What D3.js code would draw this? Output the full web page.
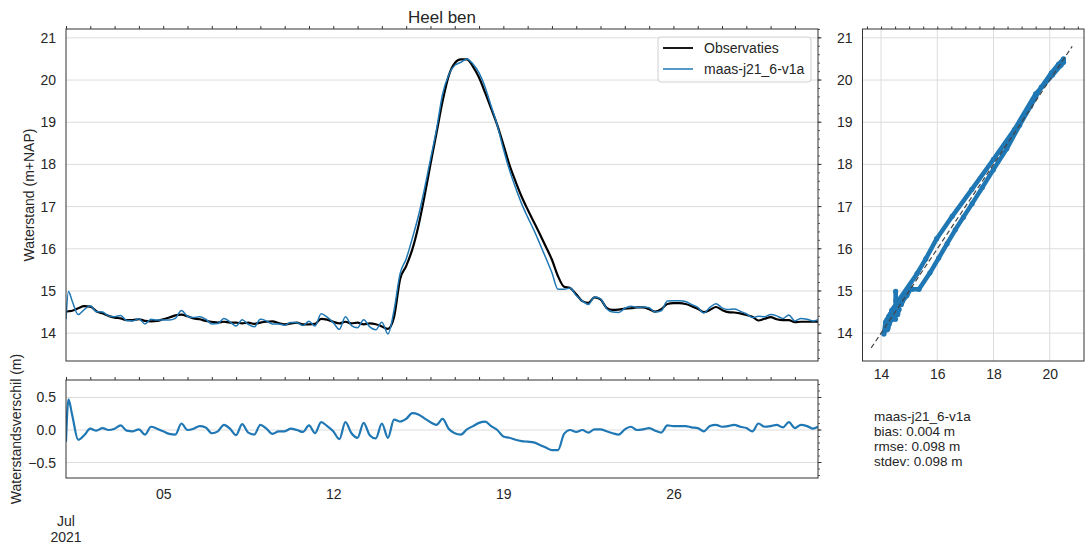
<!DOCTYPE html>
<html>
<head>
<meta charset="utf-8">
<script src="https://cdn.jsdelivr.net/npm/d3@7"></script>
<style>
  body { margin: 0; background: #fff; }
  svg text { font-family: "Liberation Sans", Arial, sans-serif; fill: #262626; }
</style>
</head>
<body>
<div id="chart"></div>
<script>
// days since 2021-07-01 00:00
const days = [0, 0.1, 0.25, 0.5, 0.75, 1, 1.25, 1.5, 1.75, 2, 2.25, 2.5, 2.75, 3, 3.25, 3.5, 3.75,
  4, 4.25, 4.5, 4.75, 5, 5.25, 5.5, 5.75, 6, 6.25, 6.5, 6.75, 7, 7.25, 7.5, 7.75,
  8, 8.25, 8.5, 8.75, 9, 9.25, 9.5, 9.75, 10, 10.25, 10.5, 10.75, 11, 11.25, 11.5, 11.75,
  12, 12.25, 12.5, 12.75, 13, 13.25, 13.5, 13.75, 14, 14.25, 14.5, 14.75, 15, 15.25, 15.5, 15.75,
  16, 16.25, 16.5, 16.75, 17, 17.25, 17.5, 17.75, 18, 18.25, 18.5, 18.75, 19, 19.25, 19.5, 19.75,
  20, 20.25, 20.5, 20.75, 21, 21.25, 21.5, 21.75, 22, 22.25, 22.5, 22.75, 23, 23.25, 23.5, 23.75,
  24, 24.25, 24.5, 24.75, 25, 25.25, 25.5, 25.75, 26, 26.25, 26.5, 26.75, 27, 27.25, 27.5, 27.75,
  28, 28.25, 28.5, 28.75, 29, 29.25, 29.5, 29.75, 30, 30.25, 30.5, 30.75, 30.95];

// Observaties (m+NAP)
const obs = [14.51, 14.52, 14.53, 14.59, 14.64, 14.63, 14.52, 14.47, 14.41, 14.37, 14.35, 14.31, 14.31, 14.33, 14.29, 14.28, 14.29,
  14.33, 14.37, 14.42, 14.44, 14.40, 14.35, 14.33, 14.29, 14.27, 14.25, 14.27, 14.25, 14.25, 14.23, 14.25, 14.22,
  14.25, 14.27, 14.28, 14.24, 14.21, 14.23, 14.25, 14.21, 14.21, 14.22, 14.34, 14.32, 14.27, 14.23, 14.27, 14.23,
  14.25, 14.21, 14.23, 14.21, 14.16, 14.10, 14.38, 15.28, 15.59, 15.98, 16.53, 17.23, 18.00, 18.75, 19.50, 20.10,
  20.40, 20.49, 20.49, 20.32, 20.06, 19.70, 19.32, 18.93, 18.47, 17.99, 17.60, 17.24, 16.93, 16.64, 16.35, 16.05,
  15.74, 15.35, 15.10, 15.07, 14.92, 14.76, 14.72, 14.85, 14.80, 14.60, 14.55, 14.56, 14.58, 14.59, 14.61, 14.61,
  14.57, 14.51, 14.57, 14.69, 14.71, 14.71, 14.69, 14.64, 14.58, 14.50, 14.55, 14.62, 14.55, 14.50, 14.49, 14.47,
  14.43, 14.39, 14.30, 14.34, 14.38, 14.33, 14.31, 14.31, 14.26, 14.27, 14.27, 14.27, 14.27];

// Waterstandsverschil model - observatie (m)
const diff = [-0.18, 0.47, 0.24, -0.15, -0.08, 0.02, -0.01, 0.03, 0.00, 0.02, 0.07, -0.01, -0.02, 0.01, -0.07, 0.05, 0.02,
  -0.02, -0.06, -0.07, 0.10, 0.00, 0.02, 0.06, 0.04, -0.05, -0.02, 0.08, 0.02, -0.08, 0.09, -0.04, -0.07,
  0.08, 0.02, -0.06, -0.02, -0.02, 0.02, 0.00, -0.03, 0.07, -0.05, 0.12, 0.06, -0.02, -0.14, 0.12, -0.05,
  -0.12, 0.11, -0.08, -0.13, 0.10, -0.12, 0.16, 0.13, 0.17, 0.26, 0.24, 0.18, 0.12, 0.08, 0.17, 0.02,
  -0.05, -0.07, 0.01, 0.06, 0.11, 0.13, 0.06, 0.00, -0.10, -0.12, -0.15, -0.17, -0.18, -0.19, -0.23, -0.27,
  -0.31, -0.31, -0.06, 0.00, -0.03, 0.00, -0.04, 0.01, 0.01, -0.02, -0.05, -0.07, 0.01, 0.05, 0.00, 0.01,
  0.03, -0.01, -0.04, 0.07, 0.06, 0.06, 0.06, 0.04, 0.03, -0.02, 0.06, 0.08, 0.05, 0.06, 0.08, 0.05,
  0.03, -0.02, 0.10, 0.05, 0.06, 0.08, 0.04, 0.12, 0.03, 0.08, 0.06, 0.02, 0.05];

const seriesNames = ["Observaties", "maas-j21_6-v1a"];
const levelTicks = [14, 15, 16, 17, 18, 19, 20, 21];
const diffTicks = [-0.5, 0, 0.5];
const scatterTicks = [14, 16, 18, 20];
const dayLabels = ["05", "12", "19", "26"];
const statLines = ["maas-j21_6-v1a", "bias: 0.004 m", "rmse: 0.098 m", "stdev: 0.098 m"];

const blue = "#1f77b4";
const gridColor = "#dcdcdc";
const spineColor = "#333";

const t0 = Date.UTC(2021, 6, 1);
const toDate = d => new Date(t0 + d * 864e5);

const data = days.map((d, i) => ({
  t: toDate(d),
  obs: obs[i],
  diff: diff[i],
  model: +(obs[i] + diff[i]).toFixed(3)
}));

const svg = d3.select("#chart").append("svg")
  .attr("width", 1086)
  .attr("height", 546);

// layout of the three panels
const main = {left: 66, right: 818, top: 29, bottom: 361};
const low = {left: 66, right: 818, top: 380, bottom: 478};
const sc = {left: 862.5, right: 1084, top: 29, bottom: 361};

const x = d3.scaleUtc()
  .domain([toDate(0), toDate(30.95)])
  .range([main.left, main.right]);
const y = d3.scaleLinear().domain([13.34, 21.21]).range([main.bottom, main.top]);
const yd = d3.scaleLinear().domain([-0.738, 0.769]).range([low.bottom, low.top]);
const sx = d3.scaleLinear().domain([13.34, 21.22]).range([sc.left, sc.right]);
const sy = d3.scaleLinear().domain([13.34, 21.21]).range([sc.bottom, sc.top]);

function hGrid(p, scale, ticks) {
  svg.append("g").selectAll("line").data(ticks).join("line")
    .attr("x1", p.left).attr("x2", p.right)
    .attr("y1", d => scale(d)).attr("y2", d => scale(d))
    .attr("stroke", gridColor).attr("stroke-width", 1);
}

function frame(p) {
  svg.append("rect")
    .attr("x", p.left).attr("y", p.top)
    .attr("width", p.right - p.left).attr("height", p.bottom - p.top)
    .attr("fill", "none").attr("stroke", spineColor).attr("stroke-width", 1);
}

function clip(id, p) {
  svg.append("clipPath").attr("id", id).append("rect")
    .attr("x", p.left).attr("y", p.top)
    .attr("width", p.right - p.left).attr("height", p.bottom - p.top);
}

function leftLabels(scale, ticks, xPos, fmt) {
  svg.append("g")
    .attr("transform", `translate(${xPos},0)`)
    .call(d3.axisLeft(scale).tickValues(ticks).tickSize(0).tickPadding(10).tickFormat(fmt))
    .call(g => g.select(".domain").remove())
    .call(g => g.selectAll("text").attr("font-size", 14).attr("fill", "#262626")
      .style("font-family", "Liberation Sans, Arial, sans-serif"));
}

// day ticks along the top of the time panels
const dayTicks = d3.utcDay.range(toDate(0), toDate(31));
function topDayTicks(p) {
  svg.append("g")
    .attr("transform", `translate(0,${p.top})`)
    .call(d3.axisTop(x).tickValues(dayTicks).tickSize(3).tickFormat(""))
    .call(g => g.select(".domain").remove())
    .call(g => g.selectAll("line").attr("stroke", spineColor));
}

function rightTicks(p, scale, major, minorStep) {
  const [a, b] = scale.domain();
  const minor = d3.range(Math.ceil(a / minorStep) * minorStep, b, minorStep);
  const g = svg.append("g");
  g.selectAll("line.minor").data(minor).join("line")
    .attr("x1", p.right).attr("x2", p.right + 2)
    .attr("y1", d => scale(d)).attr("y2", d => scale(d))
    .attr("stroke", spineColor).attr("stroke-width", 0.8);
  g.selectAll("line.major").data(major).join("line")
    .attr("x1", p.right).attr("x2", p.right + 3.5)
    .attr("y1", d => scale(d)).attr("y2", d => scale(d))
    .attr("stroke", spineColor).attr("stroke-width", 1);
}

// ---------- main panel ----------
hGrid(main, y, levelTicks);
clip("clipMain", main);

const obsLine = d3.line().x(d => x(d.t)).y(d => y(d.obs)).curve(d3.curveMonotoneX);
const modelLine = d3.line().x(d => x(d.t)).y(d => y(d.model)).curve(d3.curveMonotoneX);

svg.append("path").datum(data)
  .attr("clip-path", "url(#clipMain)")
  .attr("fill", "none").attr("stroke", "#000").attr("stroke-width", 2.2)
  .attr("d", obsLine);
svg.append("path").datum(data)
  .attr("clip-path", "url(#clipMain)")
  .attr("fill", "none").attr("stroke", blue).attr("stroke-width", 1.5)
  .attr("d", modelLine);

frame(main);
topDayTicks(main);
rightTicks(main, y, levelTicks, 0.2);
leftLabels(y, levelTicks, main.left, d3.format("d"));

svg.append("text")
  .attr("x", (main.left + main.right) / 2).attr("y", 23)
  .attr("text-anchor", "middle").attr("font-size", 17)
  .text("Heel ben");

svg.append("text")
  .attr("transform", `translate(34,${(main.top + main.bottom) / 2}) rotate(-90)`)
  .attr("text-anchor", "middle").attr("font-size", 14)
  .text("Waterstand (m+NAP)");

// legend
const leg = svg.append("g").attr("transform", "translate(658,37)");
leg.append("rect").attr("width", 153).attr("height", 45).attr("rx", 3)
  .attr("fill", "#fff").attr("fill-opacity", 0.8)
  .attr("stroke", "#d0d0d0").attr("stroke-width", 1);
seriesNames.forEach((name, i) => {
  leg.append("line")
    .attr("x1", 5).attr("x2", 35)
    .attr("y1", 11 + i * 21).attr("y2", 11 + i * 21)
    .attr("stroke", i === 0 ? "#000" : blue).attr("stroke-width", i === 0 ? 1.8 : 1.5);
  leg.append("text")
    .attr("x", 46).attr("y", 16 + i * 21)
    .attr("font-size", 14)
    .text(name);
});

// ---------- difference panel ----------
hGrid(low, yd, diffTicks);
clip("clipLow", low);

const diffLine = d3.line().x(d => x(d.t)).y(d => yd(d.diff)).curve(d3.curveMonotoneX);
svg.append("path").datum(data)
  .attr("clip-path", "url(#clipLow)")
  .attr("fill", "none").attr("stroke", blue).attr("stroke-width", 2.2)
  .attr("d", diffLine);

frame(low);
topDayTicks(low);
rightTicks(low, yd, diffTicks, 0.1);
leftLabels(yd, diffTicks, low.left, d3.format(".1f"));

svg.append("text")
  .attr("transform", `translate(21,${(low.top + low.bottom) / 2}) rotate(-90)`)
  .attr("text-anchor", "middle").attr("font-size", 14)
  .text("Waterstandsverschil (m)");

// date labels
svg.append("g")
  .attr("transform", `translate(0,${low.bottom})`)
  .call(d3.axisBottom(x)
    .tickValues(dayLabels.map(s => new Date(Date.UTC(2021, 6, +s))))
    .tickSize(0).tickPadding(11)
    .tickFormat(d3.utcFormat("%d")))
  .call(g => g.select(".domain").remove())
  .call(g => g.selectAll("text").attr("font-size", 14).attr("fill", "#262626")
    .style("font-family", "Liberation Sans, Arial, sans-serif"));

const month = svg.append("text")
  .attr("x", x(toDate(0))).attr("y", 526)
  .attr("text-anchor", "middle").attr("font-size", 14);
month.append("tspan").attr("x", x(toDate(0))).text(d3.utcFormat("%b")(toDate(0)));
month.append("tspan").attr("x", x(toDate(0))).attr("dy", 16).text(d3.utcFormat("%Y")(toDate(0)));

// ---------- scatter panel ----------
svg.append("g").selectAll("line").data(scatterTicks).join("line")
  .attr("x1", d => sx(d)).attr("x2", d => sx(d))
  .attr("y1", sc.top).attr("y2", sc.bottom)
  .attr("stroke", gridColor);
hGrid(sc, sy, levelTicks);
clip("clipSc", sc);

const scG = svg.append("g").attr("clip-path", "url(#clipSc)");
scG.append("path").datum(data)
  .attr("fill", "none").attr("stroke", blue).attr("stroke-width", 4.5)
  .attr("stroke-linejoin", "round").attr("stroke-linecap", "round")
  .attr("d", d3.line().x(d => sx(d.obs)).y(d => sy(d.model)));
scG.selectAll("circle").data(data).join("circle")
  .attr("cx", d => sx(d.obs)).attr("cy", d => sy(d.model))
  .attr("r", 2.6).attr("fill", blue);

scG.append("line")
  .attr("x1", sx(13.65)).attr("y1", sy(13.65))
  .attr("x2", sx(20.8)).attr("y2", sy(20.8))
  .attr("stroke", "#444").attr("stroke-width", 1.2)
  .attr("stroke-dasharray", "5,3");

frame(sc);

// minor ticks along the top of the scatter
svg.append("g")
  .attr("transform", `translate(0,${sc.top})`)
  .call(d3.axisTop(sx).tickValues(d3.range(13.5, 21.2, 0.5)).tickSize(2.5).tickFormat(""))
  .call(g => g.select(".domain").remove())
  .call(g => g.selectAll("line").attr("stroke", spineColor));

leftLabels(sy, levelTicks, sc.left, d3.format("d"));

svg.append("g")
  .attr("transform", `translate(0,${sc.bottom})`)
  .call(d3.axisBottom(sx).tickValues(scatterTicks).tickSize(0).tickPadding(8).tickFormat(d3.format("d")))
  .call(g => g.select(".domain").remove())
  .call(g => g.selectAll("text").attr("font-size", 14).attr("fill", "#262626")
    .style("font-family", "Liberation Sans, Arial, sans-serif"));

// statistics
const st = svg.append("text").attr("x", 874).attr("y", 421).attr("font-size", 13.5);
statLines.forEach((s, i) => {
  st.append("tspan").attr("x", 874).attr("dy", i === 0 ? 0 : 15).text(s);
});
</script>
</body>
</html>
